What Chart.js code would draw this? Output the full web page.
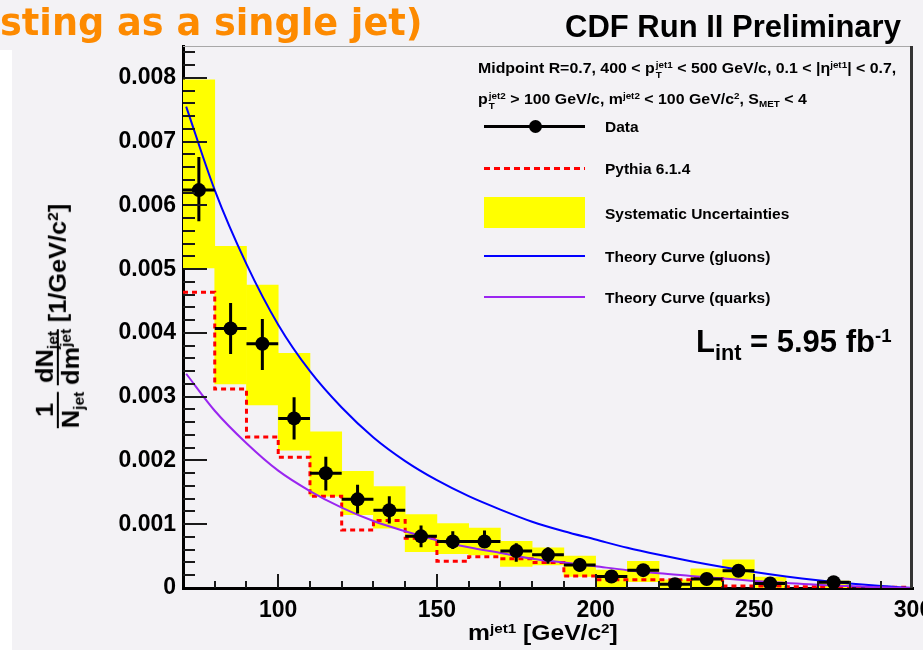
<!DOCTYPE html>
<html>
<head>
<meta charset="utf-8">
<script src="https://cdn.jsdelivr.net/npm/chart.js@4.4.1/dist/chart.umd.min.js"></script>
<style>
  html, body { margin: 0; padding: 0; }
  body {
    width: 923px; height: 650px; overflow: hidden; position: relative;
    background: #f3f2f5; color: #000;
    font-family: "Liberation Sans", Arial, sans-serif; font-weight: bold;
  }
  #strip { position: absolute; left: 0; top: 50px; width: 12px; height: 600px; background: #fff; }
  #wrap { position: absolute; left: 0; top: 0; width: 960px; height: 650px; }
  .txt { position: absolute; white-space: nowrap; line-height: 1; }
  #slide { left: 0; top: 3px; font-family: "DejaVu Sans", sans-serif; font-size: 38px; color: #fd8a00; transform: scaleX(0.965); transform-origin: left center; }
  #title { left: 565px; top: 11px; font-size: 31px; }
  .hdr { font-size: 15px; left: 478px; transform: scaleX(1.06); transform-origin: left center; }
  .st { display: inline-flex; flex-direction: column; font-size: 0.62em; line-height: 1.1; vertical-align: 0.55em; margin-left: 1px; }
  .sup { font-size: 0.62em; position: relative; top: -0.55em; vertical-align: baseline; }
  .sub { font-size: 0.62em; position: relative; top: 0.35em; vertical-align: baseline; }
  .lab { font-size: 15.5px; left: 605px; }
  .sym { position: absolute; left: 484px; width: 101px; }
  #lint { left: 696px; top: 326px; font-size: 31px; }
  #xtitle { left: 468px; top: 622px; font-size: 22px; transform: scaleX(1.12); transform-origin: left center; }
  #ytitle {
    position: absolute; left: 58px; top: 316px; white-space: nowrap;
    transform: translate(-50%, -50%) rotate(-90deg) scaleX(1.1);
    display: flex; align-items: center; font-size: 23px; line-height: 1.05;
  }
  .frac { display: inline-flex; flex-direction: column; align-items: stretch; text-align: center; margin-right: 6px; }
  .frac .den { border-top: 2px solid #000; }
</style>
</head>
<body>
<div id="strip"></div>
<div id="wrap"><canvas id="massChart" width="960" height="650"></canvas></div>

<div class="txt" id="slide">sting as a single jet)</div>
<div class="txt" id="title">CDF Run II Preliminary</div>

<div class="txt hdr" style="top:60px">Midpoint R=0.7, 400 &lt; p<span class="st"><span>jet1</span><span>T</span></span> &lt; 500 GeV/c, 0.1 &lt; |&eta;<span class="sup">jet1</span>| &lt; 0.7,</div>
<div class="txt hdr" style="top:91px">p<span class="st"><span>jet2</span><span>T</span></span> &gt; 100 GeV/c, m<span class="sup">jet2</span> &lt; 100 GeV/c<span class="sup">2</span>, S<span class="sub">MET</span> &lt; 4</div>

<div class="sym" style="top:125px;height:3px;background:#000"></div>
<div class="sym" style="top:120px;left:529px;width:13px;height:13px;border-radius:50%;background:#000"></div>
<div class="sym" style="top:167px;height:3px;background:repeating-linear-gradient(to right,#ff0000 0 6px,transparent 6px 10px)"></div>
<div class="sym" style="top:197px;height:31px;background:#ffff00"></div>
<div class="sym" style="top:255px;height:2px;background:#0000ff"></div>
<div class="sym" style="top:296px;height:2px;background:#9a26f0"></div>
<div class="txt lab" style="top:119px">Data</div>
<div class="txt lab" style="top:161px">Pythia 6.1.4</div>
<div class="txt lab" style="top:206px">Systematic Uncertainties</div>
<div class="txt lab" style="top:249px">Theory Curve (gluons)</div>
<div class="txt lab" style="top:290px">Theory Curve (quarks)</div>

<div class="txt" id="lint">L<span class="sub" style="font-size:0.7em">int</span> = 5.95 fb<span class="sup" style="font-size:0.6em">-1</span></div>

<div class="txt" id="xtitle">m<span class="sup">jet1</span> [GeV/c<span class="sup">2</span>]</div>
<div id="ytitle">
  <span class="frac"><span>1</span><span class="den">N<span class="sub">jet</span></span></span>
  <span class="frac"><span>dN<span class="sub">jet</span></span><span class="den">dm<span class="sup">jet</span></span></span>
  <span>[1/GeV/c<span class="sup">2</span>]</span>
</div>

<script>
// ------------------------
// DATA
// ------------------------

// histogram bins: left edges, 10 GeV/c^2 wide
const binLeft = [70, 80, 90, 100, 110, 120, 130, 140, 150, 160, 170, 180, 190, 200, 210, 220, 230, 240, 250, 260, 270, 280, 290]
const binWidth = 10

// yellow systematic band, low and high edge per bin
const systLow = [0.00502, 0.0032, 0.00287, 0.00216, 0.00144, 0.00115, 0.00094, 0.00057, 0.00054, 0.00052, 0.00034, 0.00036, 0.00018, 0.00002, 0.0001, 0, 0.00002, 0.00014, 0, null, 0, null, null]
const systHigh = [0.00797, 0.00536, 0.00475, 0.00368, 0.00245, 0.00183, 0.00159, 0.00115, 0.00101, 0.00094, 0.00073, 0.00063, 0.0005, 0.00028, 0.00042, 0.00013, 0.0003, 0.00044, 0.00017, null, 0.00011, null, null]

// Pythia 6.1.4 histogram
const pythia = [0.00464, 0.00312, 0.00237, 0.00205, 0.00144, 0.00091, 0.00106, 0.00078, 0.00042, 0.00049, 0.00046, 0.0004, 0.00019, 0.00013, 0.00013, 0.00013, 0.00015, 0.00003, 0.00003, 0.00002, 0.00001, 0.00001, 0.00001]

// data points with stat errors
const dataMass = [75, 85, 95, 105, 115, 125, 135, 145, 155, 165, 175, 185, 195, 205, 215, 225, 235, 245, 255, 275]
const dataValue = [0.00624, 0.00407, 0.00383, 0.00266, 0.0018, 0.00139, 0.00122, 0.00081, 0.00073, 0.00073, 0.00058, 0.00052, 0.00036, 0.00018, 0.00028, 0.00006, 0.00014, 0.00027, 0.00007, 0.00009]
const dataLow = [0.00575, 0.00367, 0.00342, 0.00233, 0.00153, 0.00117, 0.00101, 0.00064, 0.00061, 0.00063, 0.00041, 0.00038, 0.00026, 0.0001, 0.00021, 0, 0.00007, 0.00019, 0.00001, 0.00003]
const dataHigh = [0.00676, 0.00447, 0.00422, 0.00299, 0.00206, 0.00162, 0.00144, 0.00098, 0.00089, 0.0009, 0.0007, 0.00064, 0.00047, 0.00026, 0.00036, 0.00012, 0.00021, 0.00036, 0.00013, 0.00015]

// theory curves
const theoryMass = [71, 80, 90, 100, 110, 120, 130, 140, 150, 160, 170, 180, 190, 200, 210, 220, 230, 240, 250, 260, 270, 280, 290, 300]
const gluonCurve = [0.00755, 0.00624, 0.00508, 0.00413, 0.0034, 0.00283, 0.00236, 0.00199, 0.00169, 0.00144, 0.00123, 0.00104, 0.00089, 0.00076, 0.00063, 0.00052, 0.00042, 0.00033, 0.00025, 0.00018, 0.00012, 0.00007, 0.00003, 0]
const quarkCurve = [0.00336, 0.00278, 0.00227, 0.00184, 0.00152, 0.00126, 0.00105, 0.00089, 0.00075, 0.00064, 0.00055, 0.00046, 0.0004, 0.00034, 0.00028, 0.00023, 0.00019, 0.00015, 0.00011, 0.00008, 0.00005, 0.00003, 0.00001, 0]

// tick labels
const xTickLabels = [100, 150, 200, 250, 300]
const yTickLabels = [0, 0.001, 0.002, 0.003, 0.004, 0.005, 0.006, 0.007, 0.008]

// ------------------------
// DATASETS
// ------------------------

const systBars = []
binLeft.forEach((m, i) => {
  if (systLow[i] === null) return
  systBars.push({ x: m + binWidth / 2, y: [systLow[i], systHigh[i]] })
})

const pythiaSteps = binLeft.map((m, i) => ({ x: m, y: pythia[i] }))
pythiaSteps.push({ x: binLeft[binLeft.length - 1] + binWidth, y: pythia[pythia.length - 1] })

// error bars as broken line segments
const errorSegments = []
dataMass.forEach((m, i) => {
  errorSegments.push({ x: m - binWidth / 2, y: dataValue[i] }, { x: m + binWidth / 2, y: dataValue[i] }, { x: m, y: null })
  errorSegments.push({ x: m, y: dataLow[i] }, { x: m, y: dataHigh[i] }, { x: m, y: null })
})

const markers = dataMass.map((m, i) => ({ x: m, y: dataValue[i] }))
const gluonLine = theoryMass.map((m, i) => ({ x: m, y: gluonCurve[i] }))
const quarkLine = theoryMass.map((m, i) => ({ x: m, y: quarkCurve[i] }))

// ------------------------
// PLUGIN: inward ticks + frame
// ------------------------

const innerTicks = {
  id: 'innerTicks',
  afterDatasetsDraw(chart) {
    const { ctx, chartArea: area } = chart
    const x = chart.scales.x
    const y = chart.scales.y
    ctx.save()
    ctx.strokeStyle = '#1a1a1a'
    ctx.lineWidth = 2
    ctx.beginPath()
    for (let i = 1; i <= 42; i++) {
      const py = Math.round(y.getPixelForValue(i * 0.0002))
      const len = i % 5 === 0 ? 24 : 12
      ctx.moveTo(area.left, py)
      ctx.lineTo(area.left + len, py)
    }
    for (let m = 80; m < 300; m += 10) {
      const px = Math.round(x.getPixelForValue(m))
      const len = m % 50 === 0 ? 14 : 7
      ctx.moveTo(px, area.bottom)
      ctx.lineTo(px, area.bottom - len)
    }
    ctx.stroke()
    // top frame
    ctx.strokeStyle = '#a8a8a8'
    ctx.lineWidth = 1
    ctx.beginPath()
    ctx.moveTo(area.left, area.top + 0.5)
    ctx.lineTo(area.right, area.top + 0.5)
    ctx.stroke()
    // right frame
    ctx.strokeStyle = '#333'
    ctx.lineWidth = 3
    ctx.beginPath()
    ctx.moveTo(area.right - 1.5, area.top)
    ctx.lineTo(area.right - 1.5, area.bottom)
    ctx.stroke()
    ctx.restore()
  }
}

// ------------------------
// CHART
// ------------------------

const tickFont = { family: '"Liberation Sans", Arial, sans-serif', size: 23, weight: 'bold' }

const massChart = new Chart(document.querySelector('#massChart'), {
  type: 'bar',
  data: {
    datasets: [
      {
        type: 'line',
        data: markers,
        showLine: false,
        pointRadius: 7,
        pointBackgroundColor: '#000',
        pointBorderWidth: 0,
        order: 1
      },
      {
        type: 'line',
        data: errorSegments,
        borderColor: '#000',
        borderWidth: 3,
        pointRadius: 0,
        spanGaps: false,
        order: 2
      },
      {
        type: 'line',
        data: quarkLine,
        borderColor: '#9a26f0',
        borderWidth: 2,
        pointRadius: 0,
        cubicInterpolationMode: 'monotone',
        order: 3
      },
      {
        type: 'line',
        data: gluonLine,
        borderColor: '#0000ff',
        borderWidth: 2,
        pointRadius: 0,
        cubicInterpolationMode: 'monotone',
        order: 4
      },
      {
        type: 'line',
        data: pythiaSteps,
        borderColor: '#ff0000',
        borderWidth: 3,
        borderDash: [5, 4],
        pointRadius: 0,
        stepped: true,
        order: 5
      },
      {
        type: 'bar',
        data: systBars,
        backgroundColor: '#ffff00',
        borderWidth: 0,
        borderSkipped: false,
        barPercentage: 1,
        categoryPercentage: 1,
        order: 10
      }
    ]
  },
  options: {
    responsive: false,
    animation: false,
    layout: { padding: { top: 46, right: 47, left: 0, bottom: 0 } },
    plugins: { legend: { display: false }, tooltip: { enabled: false } },
    scales: {
      x: {
        type: 'linear',
        min: 70,
        max: 300,
        offset: false,
        grid: { display: false, drawTicks: false },
        border: { display: true, color: '#000', width: 3 },
        ticks: { font: tickFont, color: '#000', padding: 9, maxRotation: 0, autoSkip: false },
        afterBuildTicks: s => { s.ticks = xTickLabels.map(v => ({ value: v })) },
        afterFit: s => { s.height = 62 }
      },
      y: {
        min: 0,
        max: 0.0085,
        grid: { display: false, drawTicks: false },
        border: { display: true, color: '#000', width: 3 },
        ticks: {
          font: tickFont,
          color: '#000',
          padding: 7,
          callback: v => v === 0 ? '0' : v.toFixed(3)
        },
        afterBuildTicks: s => { s.ticks = yTickLabels.map(v => ({ value: v })) },
        afterFit: s => { s.width = 183 }
      }
    }
  },
  plugins: [innerTicks]
})
</script>
</body>
</html>
